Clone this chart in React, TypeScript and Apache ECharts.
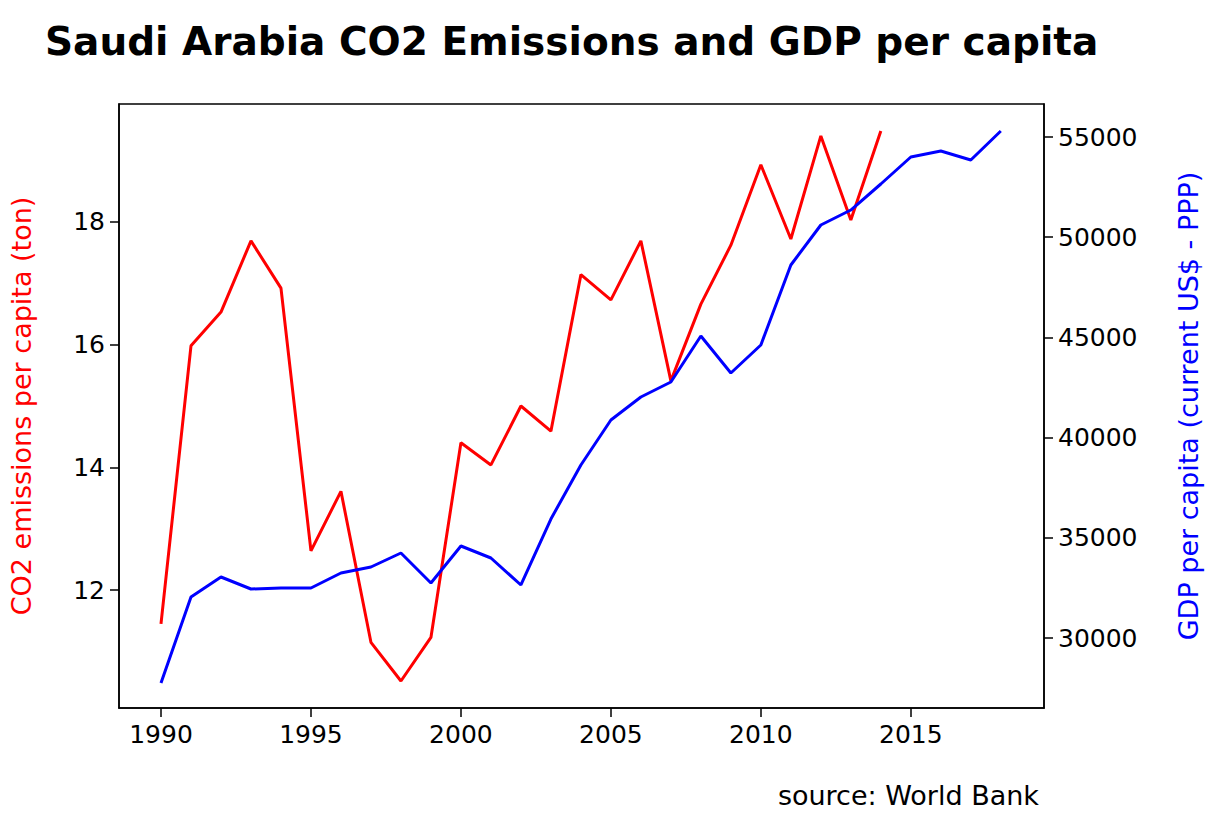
import React, { useEffect, useRef } from "react";
import * as echarts from "echarts";

const years = [1990,1991,1992,1993,1994,1995,1996,1997,1998,1999,2000,2001,2002,2003,2004,2005,2006,2007,2008,2009,2010,2011,2012,2013,2014,2015,2016,2017,2018];
const co2 = [11.45,15.98,16.53,17.69,16.92,12.64,13.61,11.15,10.52,11.23,14.40,14.04,15.00,14.59,17.14,16.73,17.69,15.41,16.66,17.62,18.93,17.72,19.40,18.03,19.48];
const gdp = [27755,32046,33044,32445,32495,32495,33244,33543,34242,32745,34591,33992,32645,35938,38633,40878,42026,42775,45070,43224,44621,48613,50609,51357,52655,54002,54301,53852,55299];
const xTicks = [1990,1995,2000,2005,2010,2015];
const leftTicks = [12,14,16,18];
const rightTicks = [30000,35000,40000,45000,50000,55000];

const font = "DejaVu Sans";
const fmt = (v: number) => String(v);

export default function App() {
  const ref = useRef<HTMLDivElement>(null);
  useEffect(() => {
    const chart = echarts.init(ref.current!, null, { renderer: "svg" });
    const line = { show: true, onZero: false, lineStyle: { color: "#000", width: 1.5 } };
    const tick = (vals: number[]) => ({ show: true, inside: false, length: 9, customValues: vals, lineStyle: { color: "#000", width: 1.5 } });
    const label = (vals: number[]) => ({ customValues: vals, formatter: fmt, fontFamily: font, fontSize: 25, color: "#000", margin: 14 });
    chart.setOption({
      animation: false,
      backgroundColor: "#fff",
      title: [
        { text: "Saudi Arabia CO2 Emissions and GDP per capita", left: 40, top: 17, textStyle: { fontFamily: font, fontSize: 39, fontWeight: "bold", color: "#000" } },
        { text: "source: World Bank", right: 167, top: 777, textStyle: { fontFamily: font, fontSize: 27, fontWeight: "normal", color: "#000" } },
      ],
      grid: { left: 114, right: 167, top: 104, bottom: 119, show: true, borderColor: "#000", borderWidth: 1.5 },
      xAxis: {
        type: "value", min: 1988.6, max: 2019.44,
        axisLine: line, axisTick: tick(xTicks), axisLabel: label(xTicks), splitLine: { show: false },
      },
      yAxis: [
        {
          type: "value", min: 10.08, max: 19.92, position: "left",
          name: "CO2 emissions per capita (ton)", nameLocation: "middle", nameGap: 84,
          nameTextStyle: { color: "red", fontFamily: font, fontSize: 27 },
          axisLine: line, axisTick: tick(leftTicks), axisLabel: label(leftTicks), splitLine: { show: false },
        },
        {
          type: "value", min: 26507, max: 56647, position: "right",
          name: "GDP per capita (current US$ - PPP)", nameLocation: "middle", nameGap: 131,
          nameTextStyle: { color: "blue", fontFamily: font, fontSize: 27 },
          axisLine: line, axisTick: tick(rightTicks), axisLabel: label(rightTicks), splitLine: { show: false },
        },
      ],
      series: [
        { type: "line", yAxisIndex: 0, data: co2.map((v, i) => [years[i], v]), showSymbol: false, lineStyle: { color: "red", width: 3 }, itemStyle: { color: "red" } },
        { type: "line", yAxisIndex: 1, data: gdp.map((v, i) => [years[i], v]), showSymbol: false, lineStyle: { color: "blue", width: 3 }, itemStyle: { color: "blue" } },
      ],
    });
    return () => chart.dispose();
  }, []);
  return <div ref={ref} style={{ position: "fixed", left: 0, top: 0, width: 1211, height: 827 }} />;
}
